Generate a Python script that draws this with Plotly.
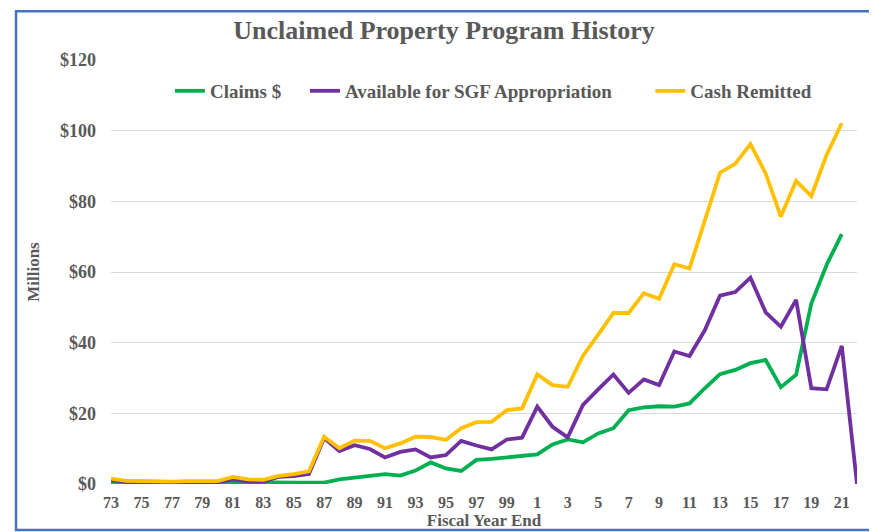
import plotly.graph_objects as go

# fiscal year end labels, 1973 .. 2022
years = [str(y) for y in range(73, 100)] + [str(y) for y in range(0, 23)]

claims = [0.2, 0.2, 0.2, 0.2, 0.2, 0.2, 0.2, 0.2, 0.6, 0.5, 0.5, 0.4, 0.4, 0.4, 0.4,
          1.3, 1.8, 2.5, 2.8, 2.4, 3.8, 6.1, 4.4, 3.7, 6.8, 7.1, 7.5,
          7.9, 8.4, 11.2, 12.6, 11.8, 14.3, 15.8, 20.9, 21.7, 22.0, 21.9, 22.8,
          27.1, 31.1, 32.3, 34.2, 35.1, 27.4, 30.9, 51.1, 62.0, 70.7, None]

available_sgf = [1.2, 0.6, 0.5, 0.3, 0.4, 0.5, 0.5, 0.5, 1.3, 0.7, 0.7, 2.0, 2.2, 2.8, 13.0,
                 9.3, 11.0, 9.9, 7.5, 9.1, 9.8, 7.5, 8.2, 12.2, 10.9, 9.8, 12.6,
                 13.1, 21.9, 16.2, 13.2, 22.4, 26.8, 31.0, 25.8, 29.6, 28.0, 37.5, 36.2,
                 43.5, 53.3, 54.3, 58.4, 48.6, 44.5, 52.1, 27.1, 26.8, 39.1, 0.0]

cash_remitted = [1.5, 0.9, 0.85, 0.7, 0.7, 0.8, 0.8, 0.8, 2.0, 1.3, 1.2, 2.3, 2.8, 3.6, 13.4,
                 10.1, 12.3, 12.2, 10.1, 11.5, 13.4, 13.3, 12.5, 15.8, 17.5, 17.6, 20.9,
                 21.4, 31.0, 28.0, 27.5, 36.3, 42.3, 48.4, 48.4, 54.0, 52.4, 62.2, 61.0,
                 74.3, 88.1, 90.6, 96.2, 87.9, 75.7, 85.8, 81.5, 93.1, 102.1, None]

y_ticks = [0, 20, 40, 60, 80, 100, 120]

GREY = '#595959'
FONT = 'Liberation Serif'

fig = go.Figure()

series = [
    ('Claims $', claims, '#00B050', 'legend'),
    ('Available for SGF Appropriation', available_sgf, '#7030A0', 'legend2'),
    ('Cash Remitted', cash_remitted, '#FFC000', 'legend3'),
]
for name, vals, color, leg in series:
    fig.add_trace(go.Scatter(
        x=years, y=vals, name=name, mode='lines',
        line=dict(color=color, width=3.8),
        legend=leg,
    ))

leg_style = dict(orientation='h', yanchor='middle', y=0.927, xanchor='left',
                 bgcolor='rgba(0,0,0,0)',
                 font=dict(family=FONT, size=19, color=GREY, weight='bold'))

# the page body adds an 8px offset, so the figure is 8px smaller than the window
fig.update_layout(
    width=869, height=524,
    margin=dict(l=103, r=20, t=52, b=48, autoexpand=False),
    paper_bgcolor='white', plot_bgcolor='white',
    font=dict(family=FONT, color=GREY),
    title=dict(text='Unclaimed Property Program History',
               x=0.5017, xref='container', y=0.958, yref='container',
               xanchor='center', yanchor='middle',
               font=dict(family=FONT, size=26, color=GREY, weight='bold')),
    legend=dict(x=0.079, **leg_style),
    legend2=dict(x=0.260, **leg_style),
    legend3=dict(x=0.723, **leg_style),
    showlegend=True,
)

fig.update_xaxes(
    type='category', categoryorder='array', categoryarray=years,
    tickmode='array', tickvals=years[::2], ticktext=years[::2],
    showgrid=False, showline=False, zeroline=False, automargin=False,
    tickfont=dict(family=FONT, size=16, color=GREY, weight='bold'),
    title=dict(text='Fiscal Year End', standoff=0,
               font=dict(family=FONT, size=17, color=GREY, weight='bold')),
    ticklabelstandoff=7,
)

fig.update_yaxes(
    range=[0, 120], tickmode='array', tickvals=y_ticks,
    ticktext=['$%d' % v for v in y_ticks],
    showgrid=True, gridcolor='#D9D9D9', gridwidth=1,
    zeroline=False, showline=False, automargin=False,
    tickfont=dict(family=FONT, size=18, color=GREY, weight='bold'),
    title=dict(text='Millions', standoff=16,
               font=dict(family=FONT, size=17, color=GREY, weight='bold')),
    ticklabelstandoff=14,
)

# blue frame around the whole chart
fig.add_shape(type='rect', xref='paper', yref='paper',
              x0=-0.1273, x1=1.0214, y0=-0.1085, y1=1.115,
              line=dict(color='#4472C4', width=2.5), layer='above')

fig.write_html('out.html')
